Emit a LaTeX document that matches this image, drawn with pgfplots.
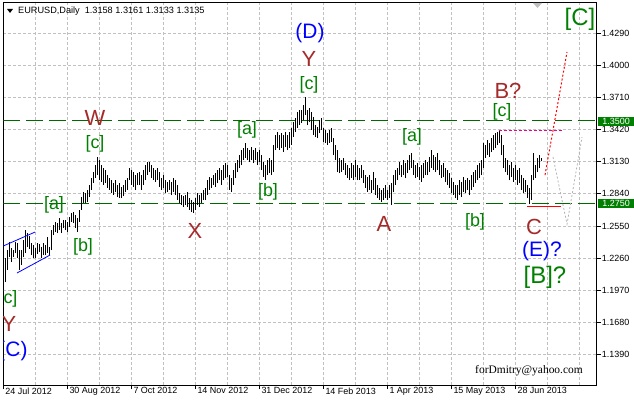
\documentclass[border=0pt]{standalone}
\usepackage{fontspec}
\setmainfont{Liberation Sans}
\newfontfamily\serifx{Liberation Serif}
\usepackage{pgfplots}
\pgfplotsset{compat=1.18}
\usepackage{pgfplotstable}

\definecolor{mtgreen}{RGB}{0,128,0}
\definecolor{mtdkgreen}{RGB}{0,105,0}
\definecolor{mtbrown}{RGB}{165,42,42}
\definecolor{mtblue}{RGB}{0,0,255}
\definecolor{mtgrid}{RGB}{192,192,192}

\pgfplotstableread{
k l h
1 1.2043 1.2260
2 1.2152 1.2332
3 1.2269 1.2405
4 1.2224 1.2351
5 1.2269 1.2332
6 1.2305 1.2405
7 1.2260 1.2396
8 1.2152 1.2332
9 1.2197 1.2332
10 1.2269 1.2423
11 1.2305 1.2513
12 1.2360 1.2486
13 1.2342 1.2459
14 1.2287 1.2396
15 1.2260 1.2378
16 1.2260 1.2351
17 1.2296 1.2396
18 1.2314 1.2387
19 1.2260 1.2360
20 1.2287 1.2396
21 1.2287 1.2378
22 1.2305 1.2450
23 1.2287 1.2360
24 1.2332 1.2513
25 1.2468 1.2558
26 1.2495 1.2586
27 1.2486 1.2576
28 1.2513 1.2622
29 1.2486 1.2576
30 1.2531 1.2604
31 1.2513 1.2604
32 1.2495 1.2586
33 1.2540 1.2631
34 1.2586 1.2667
35 1.2576 1.2676
36 1.2531 1.2649
37 1.2495 1.2622
38 1.2586 1.2694
39 1.2694 1.2811
40 1.2757 1.2856
41 1.2757 1.2847
42 1.2766 1.2875
43 1.2811 1.2920
44 1.2875 1.2983
45 1.2938 1.3037
46 1.2983 1.3100
47 1.3010 1.3173
48 1.2965 1.3146
49 1.2947 1.3100
50 1.2920 1.3073
51 1.2938 1.3055
52 1.2893 1.3010
53 1.2875 1.2983
54 1.2847 1.2965
55 1.2829 1.2938
56 1.2856 1.2965
57 1.2811 1.2920
58 1.2802 1.2938
59 1.2802 1.2902
60 1.2820 1.2920
61 1.2856 1.2965
62 1.2875 1.2983
63 1.2965 1.3073
64 1.2920 1.3055
65 1.2902 1.3037
66 1.2875 1.3010
67 1.2920 1.3028
68 1.2920 1.3037
69 1.2875 1.3010
70 1.2920 1.3055
71 1.2965 1.3100
72 1.3010 1.3128
73 1.3037 1.3128
74 1.2983 1.3100
75 1.2965 1.3073
76 1.2947 1.3055
77 1.2965 1.3073
78 1.2902 1.3037
79 1.2875 1.2983
80 1.2893 1.3010
81 1.2847 1.2965
82 1.2856 1.2947
83 1.2875 1.2965
84 1.2829 1.2947
85 1.2856 1.2983
86 1.2829 1.2965
87 1.2784 1.2920
88 1.2757 1.2847
89 1.2739 1.2829
90 1.2721 1.2820
91 1.2739 1.2829
92 1.2721 1.2856
93 1.2694 1.2802
94 1.2676 1.2784
95 1.2667 1.2766
96 1.2694 1.2802
97 1.2739 1.2847
98 1.2721 1.2829
99 1.2757 1.2847
100 1.2784 1.2875
101 1.2784 1.2893
102 1.2829 1.2965
103 1.2875 1.2992
104 1.2893 1.2983
105 1.2920 1.3010
106 1.2902 1.3028
107 1.2938 1.3055
108 1.2965 1.3073
109 1.2920 1.3055
110 1.2965 1.3100
111 1.2983 1.3118
112 1.2992 1.3100
113 1.2875 1.3010
114 1.2856 1.2983
115 1.2920 1.3055
116 1.2983 1.3118
117 1.3037 1.3146
118 1.3073 1.3191
119 1.3100 1.3236
120 1.3146 1.3254
121 1.3164 1.3299
122 1.3146 1.3254
123 1.3128 1.3236
124 1.3146 1.3263
125 1.3118 1.3236
126 1.3146 1.3254
127 1.3100 1.3218
128 1.3128 1.3236
129 1.3055 1.3191
130 1.2992 1.3128
131 1.2965 1.3100
132 1.3010 1.3146
133 1.3028 1.3164
134 1.3010 1.3146
135 1.3037 1.3281
136 1.3236 1.3371
137 1.3254 1.3398
138 1.3236 1.3371
139 1.3254 1.3389
140 1.3218 1.3371
141 1.3263 1.3398
142 1.3236 1.3371
143 1.3254 1.3398
144 1.3281 1.3435
145 1.3353 1.3489
146 1.3398 1.3525
147 1.3435 1.3579
148 1.3462 1.3597
149 1.3480 1.3597
150 1.3507 1.3642
151 1.3552 1.3715
152 1.3462 1.3597
153 1.3489 1.3615
154 1.3417 1.3579
155 1.3371 1.3534
156 1.3353 1.3462
157 1.3344 1.3444
158 1.3389 1.3507
159 1.3417 1.3525
160 1.3308 1.3435
161 1.3299 1.3417
162 1.3281 1.3389
163 1.3299 1.3417
164 1.3308 1.3435
165 1.3191 1.3344
166 1.3146 1.3281
167 1.3037 1.3236
168 1.3028 1.3164
169 1.3037 1.3146
170 1.3055 1.3164
171 1.3010 1.3118
172 1.2983 1.3100
173 1.2965 1.3073
174 1.2983 1.3118
175 1.2965 1.3100
176 1.2992 1.3146
177 1.2965 1.3100
178 1.2965 1.3073
179 1.2983 1.3100
180 1.2938 1.3055
181 1.2893 1.3010
182 1.2856 1.2992
183 1.2875 1.3010
184 1.2847 1.2965
185 1.2875 1.3037
186 1.2829 1.2983
187 1.2802 1.2920
188 1.2784 1.2893
189 1.2766 1.2875
190 1.2784 1.2893
191 1.2802 1.2920
192 1.2784 1.2875
193 1.2802 1.2920
194 1.2739 1.2938
195 1.2856 1.3010
196 1.2920 1.3055
197 1.2965 1.3073
198 1.3010 1.3128
199 1.2992 1.3100
200 1.3010 1.3146
201 1.2983 1.3118
202 1.3028 1.3146
203 1.3055 1.3191
204 1.3073 1.3209
205 1.3010 1.3146
206 1.2983 1.3100
207 1.2992 1.3118
208 1.2965 1.3082
209 1.2947 1.3100
210 1.2983 1.3118
211 1.3010 1.3146
212 1.3010 1.3128
213 1.3037 1.3173
214 1.3073 1.3236
215 1.3055 1.3191
216 1.3037 1.3173
217 1.3055 1.3209
218 1.3010 1.3146
219 1.2983 1.3100
220 1.2992 1.3118
221 1.2947 1.3073
222 1.2920 1.3055
223 1.2893 1.3028
224 1.2847 1.2983
225 1.2829 1.2947
226 1.2802 1.2920
227 1.2784 1.2920
228 1.2829 1.2965
229 1.2811 1.2947
230 1.2856 1.2992
231 1.2847 1.2965
232 1.2875 1.2983
233 1.2829 1.2965
234 1.2875 1.3010
235 1.2902 1.3037
236 1.2938 1.3055
237 1.2965 1.3100
238 1.2983 1.3118
239 1.3010 1.3146
240 1.3073 1.3299
241 1.3164 1.3281
242 1.3191 1.3326
243 1.3173 1.3299
244 1.3218 1.3344
245 1.3236 1.3371
246 1.3254 1.3389
247 1.3281 1.3398
248 1.3299 1.3417
249 1.3191 1.3371
250 1.3073 1.3281
251 1.3037 1.3164
252 1.3010 1.3146
253 1.2965 1.3100
254 1.2992 1.3128
255 1.2947 1.3073
256 1.2965 1.3100
257 1.2920 1.3055
258 1.2938 1.3073
259 1.2875 1.3010
260 1.2847 1.2983
261 1.2856 1.2965
262 1.2802 1.2920
263 1.2748 1.2893
264 1.2784 1.3010
265 1.2965 1.3209
266 1.2983 1.3100
267 1.3037 1.3164
268 1.3073 1.3191
269 1.3133 1.3161
}\bars

\begin{document}
\begin{tikzpicture}[x=1bp,y=1bp]
\useasboundingbox (0,0) rectangle (634,404);
\begin{axis}[
  at={(3.3bp,19bp)}, anchor=south west,
  scale only axis, width=593.4bp, height=382.3bp,
  xmin=0, xmax=296.7, ymin=1.1113, ymax=1.4567,
  axis line style={black, line width=0.8bp},
  xtick={0,32,64,96,128,160,192,224,256},
  xticklabels={24 Jul 2012,30 Aug 2012,7 Oct 2012,14 Nov 2012,31 Dec 2012,14 Feb 2013,1 Apr 2013,15 May 2013,28 Jun 2013},
  minor xtick={16,48,80,112,144,176,208,240,272,288},
  ytick={1.1390,1.1680,1.1970,1.2260,1.2550,1.2840,1.3130,1.3420,1.3710,1.4000,1.4290},
  yticklabels={1.1390,1.1680,1.1970,1.2260,1.2550,1.2840,1.3130,1.3420,1.3710,1.4000,1.4290},
  xtick pos=left, ytick pos=right,
  tick align=outside, major tick length=4bp, minor tick length=0bp,
  tick style={black, line width=0.8bp},
  xmajorgrids, xminorgrids, ymajorgrids,
  major grid style={mtgrid, line width=0.8bp, dash pattern=on 3bp off 2bp},
  minor grid style={mtgrid, line width=0.8bp, dash pattern=on 3bp off 2bp},
  xticklabel style={anchor=north west, inner sep=0pt, xshift=2bp, yshift=1.5bp, font=\fontsize{9}{10}\selectfont},
  yticklabel style={anchor=west, inner sep=0pt, xshift=1bp, font=\fontsize{9}{10}\selectfont},
]
\addplot[mtdkgreen, line width=1bp, dash pattern=on 17bp off 6bp] coordinates {(0,1.3500) (296.7,1.3500)};
\addplot[mtdkgreen, line width=1bp, dash pattern=on 17bp off 6bp] coordinates {(0,1.2750) (296.7,1.2750)};
\addplot[black, line width=1bp, quiver={u=0, v=\thisrow{h}-\thisrow{l}}] table[x=k, y=l] {\bars};
% annotations
\addplot[mtblue, line width=0.8bp] coordinates {(0,1.2369) (15.9,1.2495)};
\addplot[mtblue, line width=0.8bp] coordinates {(6.85,1.2125) (23.35,1.2287)};
\addplot[magenta, line width=1bp, dash pattern=on 3bp off 2bp] coordinates {(247.9,1.3414) (279.4,1.3414)};
\addplot[red, line width=1bp] coordinates {(261.85,1.2726) (278.85,1.2726)};
\addplot[red, line width=1bp, dash pattern=on 2bp off 2bp] coordinates {(270.85,1.3010) (281.85,1.4121)};
\addplot[gray!60, line width=0.8bp, dash pattern=on 2bp off 2bp] coordinates {(274.85,1.3173) (281.85,1.2567) (289.35,1.3353)};
\end{axis}
% price boxes
\node[fill=mtgreen, text=white, font=\fontsize{9}{10}\selectfont, inner sep=0pt, minimum width=36bp, minimum height=9.5bp, anchor=west] at (598,282.5) {1.3500};
\node[fill=mtgreen, text=white, font=\fontsize{9}{10}\selectfont, inner sep=0pt, minimum width=36bp, minimum height=9.5bp, anchor=west] at (598,200.7) {1.2750};
% title
\fill[black] (7,395) -- (13,395) -- (10,391) -- cycle;
\node[anchor=west, inner sep=0pt, font=\fontsize{9.2}{10}\selectfont] at (18,393) {EURUSD,Daily\hspace{5bp}1.3158 1.3161 1.3133 1.3135};
\fill[gray!50] (533,401) -- (542,401) -- (537.5,396) -- cycle;
\node[font=\serifx\fontsize{11.5}{12}\selectfont, inner sep=0pt] at (529,33.3) {forDmitry@yahoo.com};
% wave labels
\begin{scope}
\clip (3.3,19) rectangle (596.7,401.3);
\tikzset{rl/.style={text=mtbrown, inner sep=0pt, font=\fontsize{22}{24}\selectfont},
         gl/.style={text=mtgreen, inner sep=0pt, font=\fontsize{18}{20}\selectfont},
         GL/.style={text=mtgreen, inner sep=0pt, font=\fontsize{24}{26}\selectfont},
         bl/.style={text=mtblue, inner sep=0pt, font=\fontsize{21}{23}\selectfont}}
\node[rl] at (95,286) {W};
\node[gl] at (95,260) {[c]};
\node[gl] at (54,199) {[a]};
\node[gl] at (83,157) {[b]};
\node[gl] at (8,105) {[c]};
\node[rl] at (9,80.5) {Y};
\node[bl] at (13,53) {(C)};
\node[rl] at (195,173) {X};
\node[gl] at (247,274) {[a]};
\node[gl] at (268,212) {[b]};
\node[gl] at (309,319) {[c]};
\node[rl] at (309,345) {Y};
\node[bl] at (310,371) {(D)};
\node[rl] at (384,180) {A};
\node[gl] at (412,267) {[a]};
\node[gl] at (475,182) {[b]};
\node[gl] at (502,292) {[c]};
\node[rl] at (508,313) {B?};
\node[rl] at (534,177) {C};
\node[bl] at (542,153) {(E)?};
\node[GL] at (545,127) {[B]?};
\node[GL] at (580,385) {[C]};
\end{scope}
\end{tikzpicture}
\end{document}
